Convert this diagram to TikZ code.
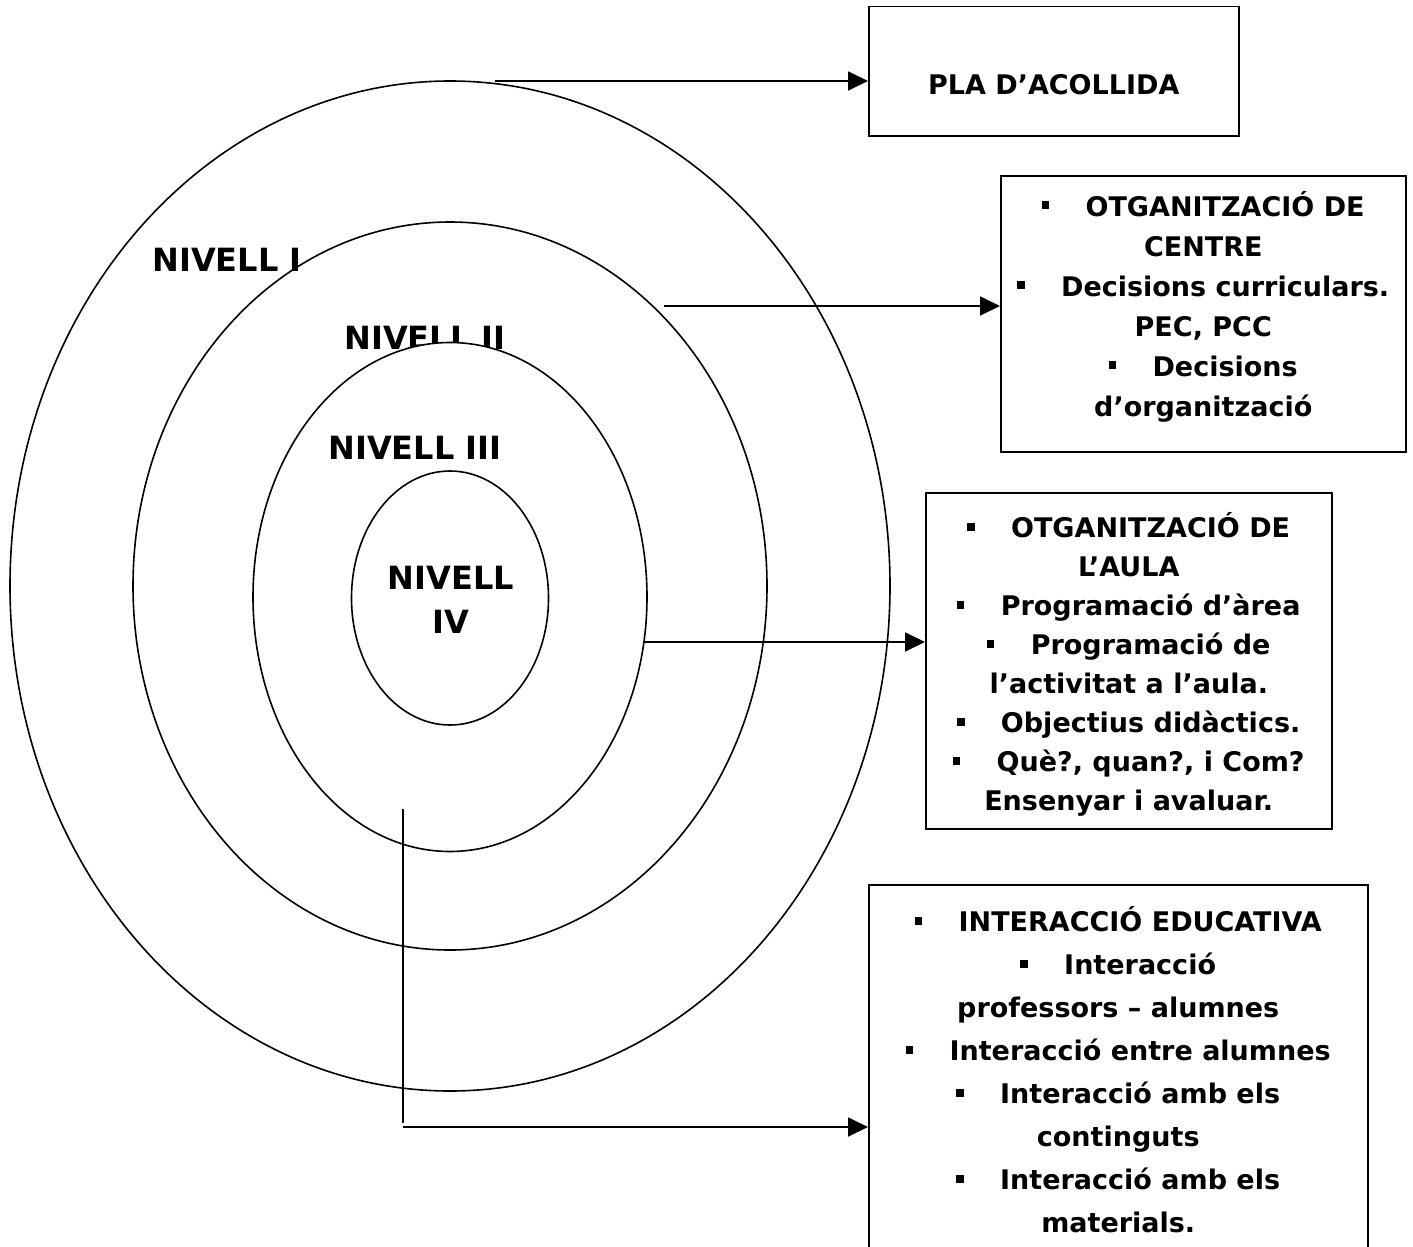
\documentclass[tikz,border=0pt]{standalone}
\usepackage{fontspec}
\setmainfont{DejaVu Sans}
\usetikzlibrary{arrows.meta,shapes.geometric}

\newcommand{\bul}{\rule[0.26em]{0.27em}{0.29em}\hspace{1.35em}}

\tikzset{
  ring/.style={draw, ellipse, inner sep=0pt, line width=1.6pt},
  lvl/.style={font=\fontsize{32}{44}\selectfont\bfseries, align=center, inner sep=0pt},
  panel/.style={draw, line width=1.5pt, inner sep=0pt, align=center,
    font=\fontsize{27}{40}\selectfont\bfseries},
  arr/.style={line width=1.8pt, -{Triangle[length=20pt,width=19pt]}}
}

\begin{document}
\begin{tikzpicture}[x=1pt,y=-1pt]
\useasboundingbox (0,0) rectangle (1413,1247);
\clip (0,0) rectangle (1413,1247);

%% levels
\node[ring, minimum width=880pt, minimum height=1010pt] (lev1) at (450,586) {};
\node[ring, minimum width=634pt, minimum height=728pt] (lev2) at (450,586) {};
\node[lvl] (n1) at (227,260) {NIVELL I};
\node[lvl] (n2) at (425,338) {NIVELL II};
\node[ring, fill=white, minimum width=394pt, minimum height=509pt] (lev3) at (450,597) {};
\node[lvl] (n3) at (415,448) {NIVELL III};
\node[ring, fill=white, minimum width=197pt, minimum height=254pt] (lev4) at (450,598) {};
\node[lvl] (n4) at (451,600) {NIVELL\\IV};

%% boxes
\node[panel, minimum width=370pt, minimum height=129pt, text height=47pt,
  anchor=north west] (acoll) at (868,6) {PLA D’ACOLLIDA};
\node[panel, minimum width=405pt, minimum height=276pt, anchor=north west]
  (centre) at (1000,175) {\bul OTGANITZACIÓ DE\\ CENTRE\\
  \bul Decisions curriculars.\\ PEC, PCC\\ \bul Decisions\\
  d’organització\rule[-20pt]{0pt}{0pt}};
\node[panel, font=\fontsize{27}{39}\selectfont\bfseries, minimum width=406pt,
  minimum height=336pt, anchor=north west] (aula) at (925,492)
  {\rule{0pt}{33pt}\bul OTGANITZACIÓ DE\\ L’AULA\\
  \bul Programació d’àrea\\ \bul Programació de\\ l’activitat a l’aula.\\
  \bul Objectius didàctics.\\ \bul Què?, quan?, i Com?\\ Ensenyar i avaluar.};
\node[panel, font=\fontsize{27}{43}\selectfont\bfseries, minimum width=499pt,
  minimum height=370pt, anchor=north west] (inter) at (868,884)
  {\bul INTERACCIÓ EDUCATIVA\\ \bul Interacció\\ professors – alumnes\\
  \bul Interacció entre alumnes\\ \bul Interacció amb els\\ continguts\\
  \bul Interacció amb els\\ materials.};

%%% arrows
\coordinate (a1) at (495,81);
\coordinate (a2) at (664,306);
\coordinate (a3) at (643,642);
\coordinate (a4) at (403,809);
\coordinate (a4b) at (403,1123);
\coordinate (a4c) at (403,1127);

\draw[arr] (a1) -- (a1 -| acoll.west);
\draw[arr] (a2) -- (a2 -| centre.west);
\draw[arr] (a3) -- (a3 -| aula.west);
\draw[line width=1.5pt] (a4) -- (a4b);
\draw[arr] (a4c) -- (a4c -| inter.west);

\end{tikzpicture}
\end{document}
